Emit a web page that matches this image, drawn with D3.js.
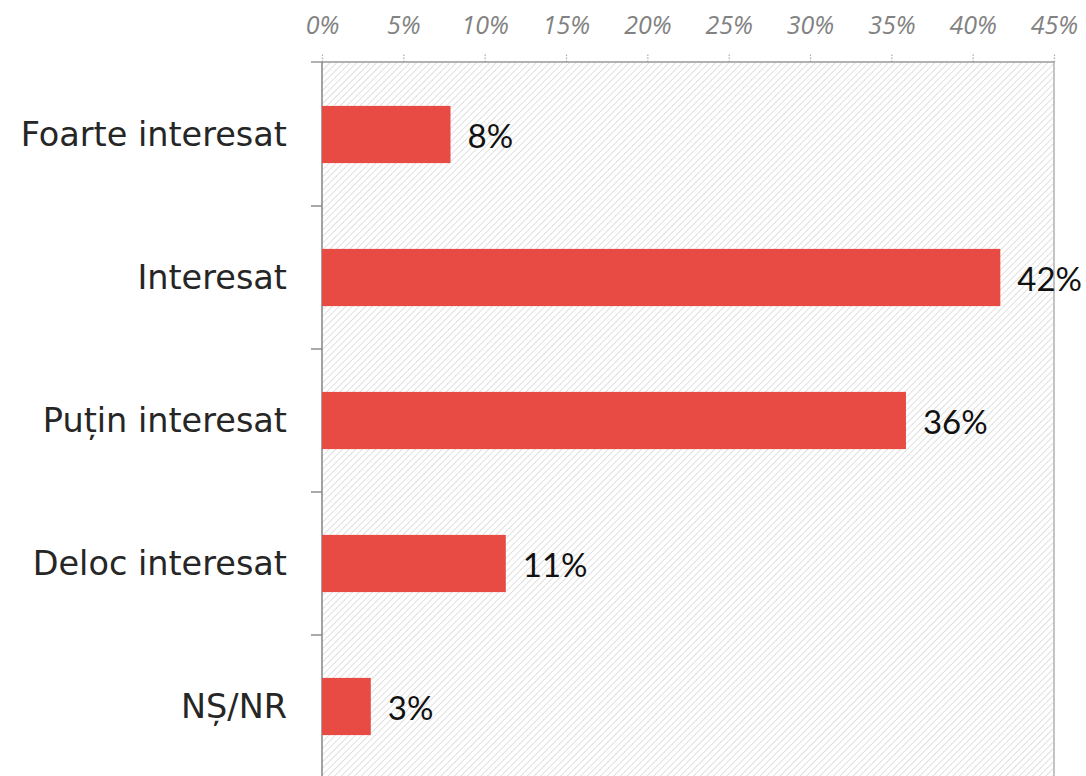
<!DOCTYPE html>
<html><head><meta charset="utf-8">
<script src="https://cdn.jsdelivr.net/npm/d3@7"></script>
<style>html,body{margin:0;padding:0;background:#fff;}svg{display:block;}</style>
</head><body>
<script>
const categories = ["Foarte interesat", "Interesat", "Puțin interesat", "Deloc interesat", "NȘ/NR"];
const values = [7.9, 41.7, 35.9, 11.3, 3.0];
const valueLabels = ["8%", "42%", "36%", "11%", "3%"];
const tickValues = [0, 5, 10, 15, 20, 25, 30, 35, 40, 45];

const W = 1086, H = 776;
const svg = d3.select("body").append("svg").attr("width", W).attr("height", H);

const pLeft = 322, pRight = 1054, pTop = 63, pBottom = 778;
const x = d3.scaleLinear().domain([0, 45]).range([pLeft, pRight]);
const y = d3.scaleBand().domain(categories).range([pTop, pBottom]).paddingInner(0.6).paddingOuter(0.3);

const defs = svg.append("defs");
const pat = defs.append("pattern").attr("id", "hatch").attr("patternUnits", "userSpaceOnUse")
  .attr("width", 4.7).attr("height", 4.7).attr("patternTransform", "rotate(45)");
pat.append("line").attr("x1", 0).attr("y1", 0).attr("x2", 0).attr("y2", 4.7)
  .attr("stroke", "#d2d2d2").attr("stroke-width", 1.4);

svg.append("rect").attr("x", pLeft).attr("y", pTop).attr("width", pRight - pLeft).attr("height", pBottom - pTop)
  .attr("fill", "url(#hatch)");
// right border
svg.append("line").attr("x1", pRight).attr("x2", pRight).attr("y1", pTop - 1).attr("y2", H)
  .attr("stroke", "#c4c4c4").attr("stroke-width", 2);

// top axis
const xAxis = d3.axisTop(x).tickValues(tickValues).tickFormat(d => d + "%").tickSize(9).tickSizeOuter(0);
const gx = svg.append("g").attr("transform", `translate(0,${pTop - 1})`).call(xAxis);
gx.select(".domain").remove();
gx.append("line").attr("x1", 311).attr("x2", pRight).attr("y1", 0).attr("y2", 0)
  .attr("stroke", "#999").attr("stroke-width", 1.5);
gx.selectAll(".tick line").attr("stroke", "#aaa").attr("stroke-width", 1.2).attr("stroke-dasharray", "1.5,1.5");
gx.selectAll(".tick text").attr("font-family", "Open Sans, sans-serif").attr("font-style", "italic")
  .attr("font-size", 25).attr("fill", "#828282").attr("y", -28);

// left axis
svg.append("line").attr("x1", pLeft).attr("x2", pLeft).attr("y1", pTop - 1).attr("y2", H)
  .attr("stroke", "#8c8c8c").attr("stroke-width", 1.6);
const boundaries = categories.slice(1).map(c => y(c) - y.step() * y.paddingInner() / 2);
svg.selectAll(".ytick").data(boundaries).enter().append("line")
  .attr("x1", 311).attr("x2", pLeft).attr("y1", d => d).attr("y2", d => d)
  .attr("stroke", "#8c8c8c").attr("stroke-width", 1.5);

// category labels
svg.selectAll(".cat").data(categories).enter().append("text")
  .attr("x", 287).attr("y", d => y(d) + y.bandwidth() / 2)
  .attr("text-anchor", "end").attr("dominant-baseline", "central")
  .attr("font-family", "DejaVu Sans, sans-serif")
  .attr("font-size", 33.5).attr("fill", "#262626").text(d => d);

// bars
svg.selectAll(".bar").data(values).enter().append("rect")
  .attr("x", x(0)).attr("y", (d, i) => y(categories[i]))
  .attr("width", d => x(d) - x(0)).attr("height", y.bandwidth())
  .attr("fill", "#e84b44");

// value labels
svg.selectAll(".val").data(values).enter().append("text")
  .attr("x", d => x(d) + 17).attr("y", (d, i) => y(categories[i]) + y.bandwidth() / 2)
  .attr("dominant-baseline", "central")
  .attr("font-family", "Lato, sans-serif").attr("font-size", 33).attr("fill", "#111")
  .text((d, i) => valueLabels[i]);
</script>
</body></html>
